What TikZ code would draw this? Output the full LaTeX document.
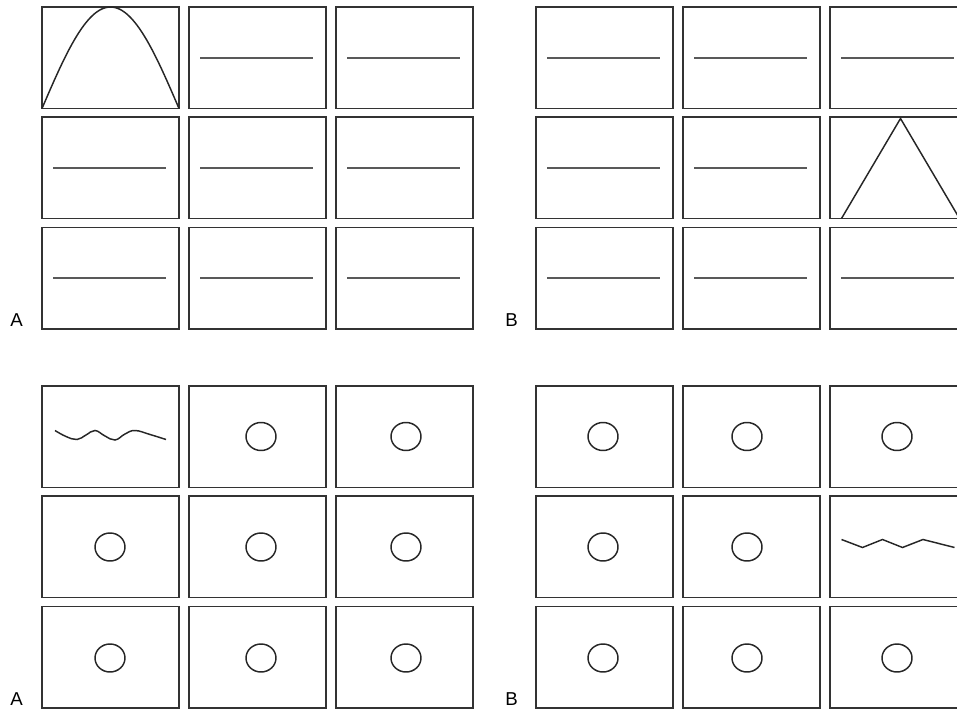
\documentclass[tikz,border=0pt]{standalone}
\usepackage{fontspec}
\setmainfont{Liberation Sans}
\begin{document}
\begin{tikzpicture}[x=0.75pt,y=-0.75pt,
  cellbox/.style={draw=black!80,line width=1.4pt},
  midline/.style={draw=black!65,line width=1.2pt},
  curveline/.style={draw=black!85,line width=1.1pt},
  ring/.style={draw=black!85,line width=1.1pt},
  panellabel/.style={font=\fontsize{14}{16}\selectfont,inner sep=0pt}]
\useasboundingbox (0,0) rectangle (957,709);
% top grids
\foreach \gx in {42,536}{
  \foreach \cx in {0,147,294}{
    \foreach \ry in {7,117,227.5}{
      \draw[cellbox] (\gx+\cx,\ry) rectangle ++(137,101.5);
    }
  }
}
% bottom grids
\foreach \gx in {42,536}{
  \foreach \cx in {0,147,294}{
    \foreach \ry in {386,496,606.5}{
      \draw[cellbox] (\gx+\cx,\ry) rectangle ++(137,101.5);
    }
  }
}
% top-left contents
\draw[curveline] plot[domain=0:180,samples=60] ({42+0.76111*\x},{108.5-101.5*sin(\x)});
\foreach \cx/\ry in {147/7,294/7,0/117,147/117,294/117,0/227.5,147/227.5,294/227.5}{
  \draw[midline] (42+\cx+11,\ry+50.75) -- ++(113,0);
}
% top-right contents
\foreach \cx/\ry in {0/7,147/7,294/7,0/117,147/117,0/227.5,147/227.5,294/227.5}{
  \draw[midline] (536+\cx+11,\ry+50.75) -- ++(113,0);
}
\draw[curveline] (841.5,218.5) -- (900.5,118.5) -- (959.5,218.5);
% bottom-left contents
\draw[curveline] plot[smooth,tension=0.7] coordinates {(55,430.5) (66,436.5) (77,439.5) (86,435) (95,430.5) (105,436) (115,440) (125,434) (135,430.5) (150,434.5) (166,439.5)};
\foreach \x/\y in {261/436.5, 406/436.5, 110/547, 261/547, 406/547, 110/658, 261/658, 406/658}{
  \draw[ring] (\x,\y) ellipse [x radius=15, y radius=14];
}
% bottom-right contents
\foreach \x/\y in {603/436.5, 747/436.5, 897/436.5, 603/547, 747/547, 603/658, 747/658, 897/658}{
  \draw[ring] (\x,\y) ellipse [x radius=15, y radius=14];
}
\draw[curveline] (841.5,539.5) -- (862.5,547.5) -- (882.5,539.5) -- (902.5,547.5) -- (923,539.5) -- (954.5,547.5);
% labels
\node[panellabel] (la1) at (16.5,320) {A};
\node[panellabel] (lb1) at (511.5,320) {B};
\node[panellabel] (la2) at (16.5,699) {A};
\node[panellabel] (lb2) at (511.5,699) {B};
\end{tikzpicture}
\end{document}
